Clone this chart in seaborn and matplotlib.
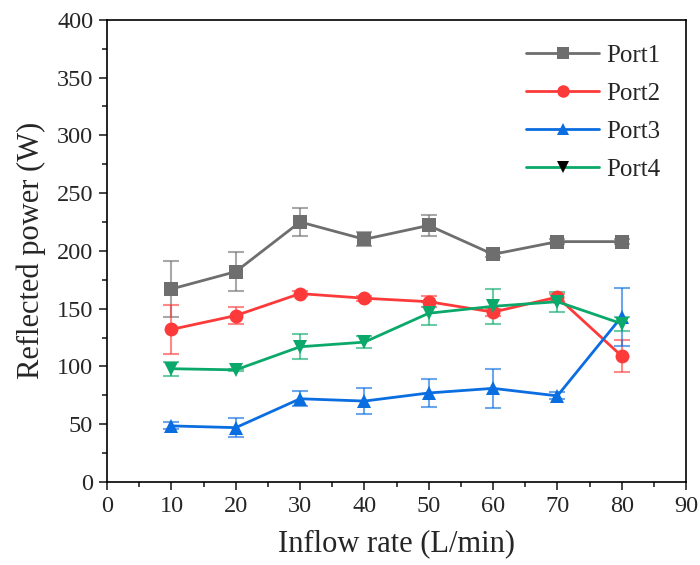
import pandas as pd
import seaborn as sns
import matplotlib.pyplot as plt
from matplotlib.lines import Line2D
from matplotlib.ticker import MultipleLocator

# Data
flow = [10, 20, 30, 40, 50, 60, 70, 80]
port1 = [167, 182, 225, 210, 222, 197, 208, 208]
port1_err = [24.5, 17, 12, 6, 9, 2, 2, 2]
port2 = [132, 144, 163, 159, 156, 147, 160, 109]
port2_err = [21, 7, 2, 2, 5, 3, 3, 14]
port3 = [48.5, 47, 72, 70, 77, 81, 74.5, 143]
port3_err = [3, 8, 6.5, 11, 12, 17, 3, 25]
port4 = [98, 97, 117, 121, 146, 152, 156, 137]
port4_err = [6, 1, 11, 5, 10, 15, 8.5, 6]

names = ['Port1', 'Port2', 'Port3', 'Port4']
colors = ['#6e6e6e', '#fd3a3a', '#0a6de0', '#0aa86a']
markers = ['s', 'o', '^', 'v']

df = pd.DataFrame({
    'flow': flow * 4,
    'power': port1 + port2 + port3 + port4,
    'err': port1_err + port2_err + port3_err + port4_err,
    'port': sum([[n] * len(flow) for n in names], []),
})

sns.set_style('ticks')
plt.rcParams['font.family'] = ['Liberation Serif', 'DejaVu Serif']

fig = plt.figure(figsize=(7, 5.65), dpi=100)
ax = fig.add_axes([0.153, 0.147, 0.827, 0.818])

for name, c, m in zip(names, colors, markers):
    sub = df[df.port == name]
    ax.errorbar(sub.flow, sub.power, yerr=sub.err, fmt='none', ecolor=c,
                alpha=0.6, elinewidth=1.5, capsize=6, capthick=1.5, zorder=2)
    sns.lineplot(data=sub, x='flow', y='power', color=c, marker=m,
                 markersize=10, markeredgewidth=0, linewidth=2, ax=ax, zorder=3)

ax.set_xlim(0, 90)
ax.set_ylim(0, 400)
ax.xaxis.set_major_locator(MultipleLocator(10))
ax.xaxis.set_minor_locator(MultipleLocator(5))
ax.yaxis.set_major_locator(MultipleLocator(50))
ax.yaxis.set_minor_locator(MultipleLocator(25))
ax.tick_params(which='major', length=6, width=1.2, labelsize=17.5, direction='out', pad=4)
ax.tick_params(which='minor', length=3.5, width=1.2, direction='out')
for s in ax.spines.values():
    s.set_linewidth(1.2)
    s.set_color('black')

ax.set_xlabel('Inflow rate (L/min)', fontsize=22, labelpad=9)
ax.set_ylabel('Reflected power (W)', fontsize=22, labelpad=8)

handles = [Line2D([], [], color=c, marker=m, markersize=9, linewidth=2,
                  markeredgewidth=0,
                  markerfacecolor=('black' if n == 'Port4' else c))
           for n, c, m in zip(names, colors, markers)]
ax.legend(handles, names, loc='upper right', frameon=False, fontsize=18,
          handlelength=2.9, handletextpad=0.3, labelspacing=0.62,
          bbox_to_anchor=(0.995, 0.995))

fig.savefig('out.png', dpi=100)
